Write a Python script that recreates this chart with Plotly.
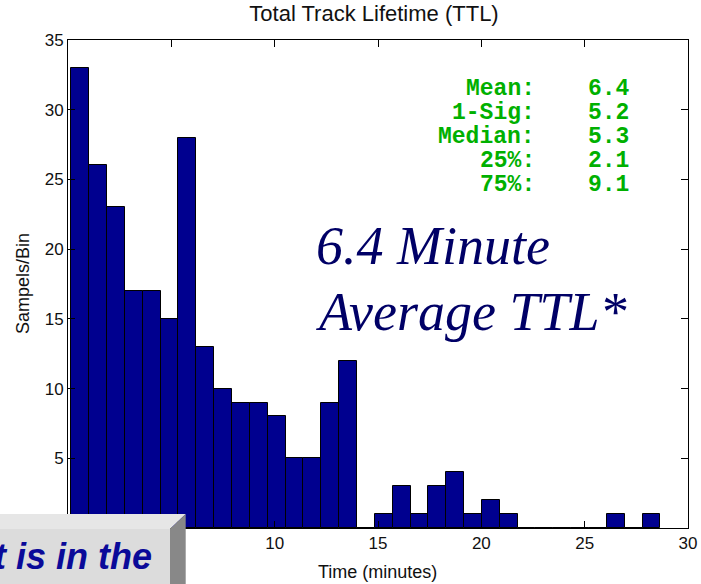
import plotly.graph_objects as go

# ---- data ----
bin_start = 0.164          # minutes, left edge of first bin
bin_width = 0.8636         # minutes
counts = [33, 26, 23, 17, 17, 15, 28, 13, 10, 9, 9, 8, 5, 5, 9, 12,
          0, 1, 3, 1, 3, 4, 1, 2, 1, 0, 0, 0, 0, 0, 1, 0, 1]
x_ticks = [0, 5, 10, 15, 20, 25, 30]
x_tick_labels = ["", "", "10", "15", "20", "25", "30"]   # 0 and 5 are hidden under the box
y_ticks = [0, 5, 10, 15, 20, 25, 30, 35]
y_tick_labels = ["", "5", "10", "15", "20", "25", "30", "35"]
stat_labels = ["Mean:", "1-Sig:", "Median:", "25%:", "75%:"]
stat_values = ["6.4", "5.2", "5.3", "2.1", "9.1"]
title = "Total Track Lifetime (TTL)"
x_title = "Time (minutes)"
y_title = "Sampels/Bin"
big_lines = ["6.4 Minute", "Average TTL*"]
box_text = "t is in the"

centers = [bin_start + bin_width * (i + 0.5) for i in range(len(counts))]

# ---- layout geometry (pixels) ----
W, H = 701, 584
L, T, PW, PH = 68, 40, 620, 488


def px(x):
    return (x - L) / PW


def py(y):
    return (T + PH - y) / PH


fig = go.Figure()
fig.add_trace(go.Bar(
    x=centers, y=counts, width=bin_width,
    marker=dict(color="#00008F", line=dict(color="black", width=1)),
    hoverinfo="skip", showlegend=False,
))

axis_common = dict(
    showline=True, linecolor="black", linewidth=1, mirror="ticks",
    ticks="inside", ticklen=7, tickcolor="black", showgrid=False,
    zeroline=False, automargin=False,
    tickfont=dict(family="Liberation Sans, Arial", size=17, color="#111"),
)

fig.update_xaxes(range=[0, 30], tickvals=x_ticks, ticktext=x_tick_labels, **axis_common)
fig.update_yaxes(range=[0, 35], tickvals=y_ticks, ticktext=y_tick_labels, **axis_common)

annotations = []
# axis titles
annotations.append(dict(text=x_title, xref="paper", yref="paper",
                        x=px(377), y=py(572), xanchor="center", yanchor="middle",
                        showarrow=False,
                        font=dict(family="Liberation Sans, Arial", size=18, color="#111")))
annotations.append(dict(text=y_title, xref="paper", yref="paper",
                        x=px(23), y=py(284), xanchor="center", yanchor="middle",
                        textangle=-90, showarrow=False,
                        font=dict(family="Liberation Sans, Arial", size=18, color="#111")))
# stats block
row_y = [89, 113, 137, 161, 185]
stat_font = dict(family="Liberation Mono, Courier New", size=23, color="#00b000", weight="bold")
for lab, val, yy in zip(stat_labels, stat_values, row_y):
    annotations.append(dict(text=lab, xref="paper", yref="paper", x=px(537), y=py(yy),
                            xanchor="right", yanchor="middle", showarrow=False, font=stat_font))
    annotations.append(dict(text=val, xref="paper", yref="paper", x=px(586), y=py(yy),
                            xanchor="left", yanchor="middle", showarrow=False, font=stat_font))
# big italic text
for line, yy in zip(big_lines, [246, 312]):
    annotations.append(dict(text=line, xref="paper", yref="paper", x=px(314), y=py(yy),
                            xanchor="left", yanchor="middle", showarrow=False,
                            font=dict(family="Liberation Serif, Times New Roman", size=54,
                                      color="#000066", style="italic")))
# box text
annotations.append(dict(text=box_text, xref="paper", yref="paper", x=px(154), y=py(556),
                        xanchor="right", yanchor="middle", showarrow=False,
                        font=dict(family="Liberation Sans, Arial", size=36, color="#0a0a99",
                                  weight="bold", style="italic")))

shapes = []
# beveled gray box in the bottom-left corner
shapes.append(dict(type="rect", xref="paper", yref="paper", layer="above",
                   x0=px(-2), x1=px(170), y0=py(586), y1=py(529),
                   fillcolor="#dcdcdc", line=dict(width=0)))


def path(points):
    return "M " + " L ".join(f"{px(a)},{py(b)}" for a, b in points) + " Z"


shapes.append(dict(type="path", xref="paper", yref="paper", layer="above",
                   path=path([(-2, 514), (185.7, 514), (170, 529), (-2, 529)]),
                   fillcolor="#e6e6e6", line=dict(width=0)))
shapes.append(dict(type="path", xref="paper", yref="paper", layer="above",
                   path=path([(170, 529), (185.7, 514), (185.7, 586), (170, 586)]),
                   fillcolor="#888888", line=dict(width=0)))

fig.update_layout(
    width=W, height=H,
    margin=dict(l=L, r=W - L - PW, t=T, b=H - T - PH, autoexpand=False),
    paper_bgcolor="white", plot_bgcolor="white",
    title=dict(text=title, x=px(374), xref="paper", xanchor="center",
               y=1 - 13 / H, yanchor="middle", automargin=False,
               font=dict(family="Liberation Sans, Arial", size=22, color="#111")),
    annotations=annotations, shapes=shapes, bargap=0,
)

fig.write_html("out.html")
